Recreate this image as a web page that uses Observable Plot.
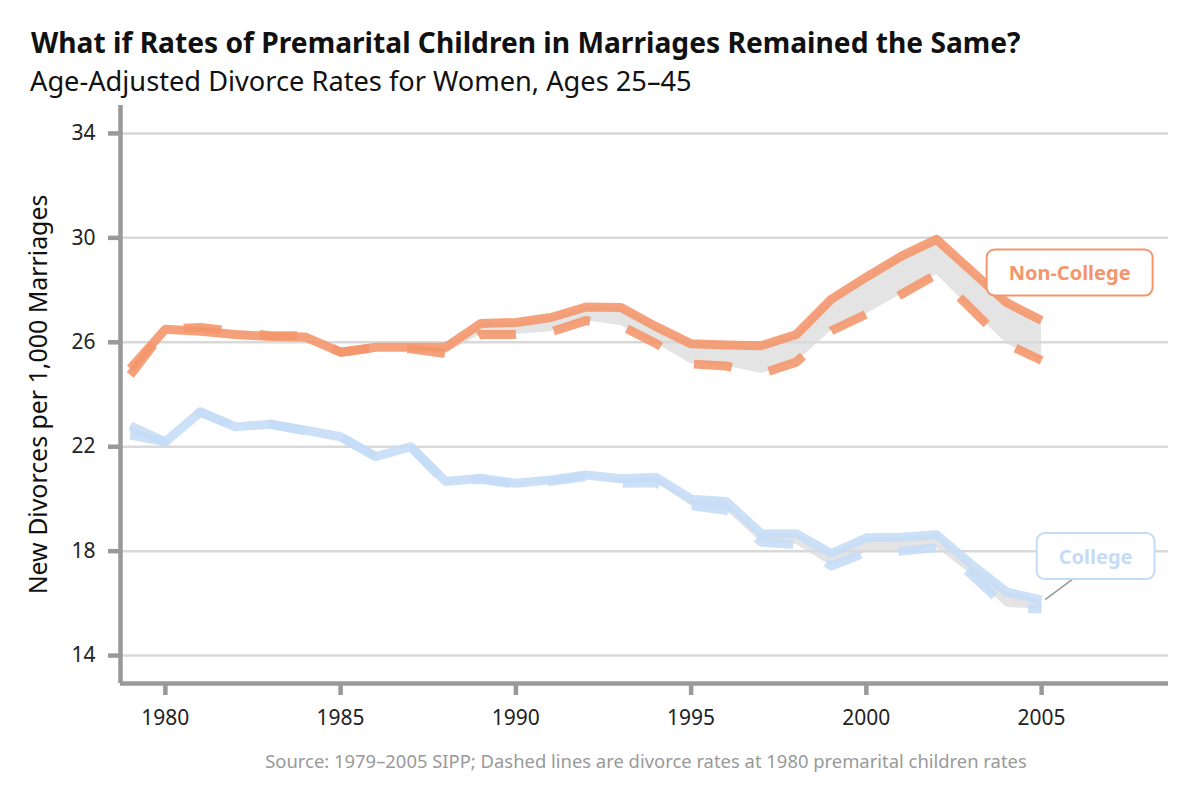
<!DOCTYPE html>
<html>
<head>
<meta charset="utf-8">
<script src="https://cdn.jsdelivr.net/npm/d3@7"></script>
<script src="https://cdn.jsdelivr.net/npm/@observablehq/plot@0.6"></script>
<style>
  html, body { margin: 0; padding: 0; background: #fff; }
  body { width: 1200px; height: 800px; position: relative; overflow: hidden; font-family: "Noto Sans", sans-serif; }
  .hdr { position: absolute; line-height: 1; white-space: nowrap; }
  #title { left: 31px; font-weight: 700; color: #111; }
  #subtitle { left: 30px; font-weight: 400; color: #111; }
  #chart { position: absolute; left: 0; top: 100px; }
  #caption { color: #999; }
</style>
</head>
<body>
<div id="title" class="hdr">What if Rates of Premarital Children in Marriages Remained the Same?</div>
<div id="subtitle" class="hdr">Age-Adjusted Divorce Rates for Women, Ages 25–45</div>
<div id="chart"></div>
<div id="caption" class="hdr">Source: 1979–2005 SIPP; Dashed lines are divorce rates at 1980 premarital children rates</div>
<script>
const years = [1979,1980,1981,1982,1983,1984,1985,1986,1987,1988,1989,1990,1991,1992,1993,1994,1995,1996,1997,1998,1999,2000,2001,2002,2003,2004,2005];

const nonCollegeActual = [25.0,26.5,26.42,26.3,26.22,26.2,25.62,25.81,25.81,25.81,26.72,26.76,26.95,27.35,27.33,26.6,25.94,25.9,25.87,26.3,27.65,28.5,29.3,29.94,28.73,27.52,26.83];
const nonCollegeAt1980 = [24.75,26.5,26.57,26.4,26.25,26.25,25.62,25.8,25.75,25.56,26.3,26.3,26.4,26.83,26.63,25.95,25.17,25.09,24.8,25.24,26.44,27.08,27.84,28.6,27.27,25.94,25.3];

const collegeActual = [22.8,22.19,23.33,22.76,22.86,22.63,22.38,21.62,22.0,20.67,20.79,20.6,20.73,20.92,20.77,20.83,19.99,19.9,18.67,18.67,17.91,18.51,18.53,18.63,17.49,16.44,16.12];
const collegeAt1980 = [22.45,22.19,23.33,22.76,22.86,22.6,22.38,21.62,22.0,20.6,20.75,20.55,20.68,20.85,20.6,20.62,19.74,19.56,18.34,18.25,17.43,17.96,18.0,18.13,17.1,15.84,15.78];

const seriesNames = ["Non-College", "College"];
const seriesColors = ["#f4956a", "#c5dcf7"];
const yTicks = [14, 18, 22, 26, 30, 34];
const xTicks = [1980, 1985, 1990, 1995, 2000, 2005];
const yLabel = "New Divorces per 1,000 Marriages";

const xDomain = [1978.72, 2008.62];
const yDomain = [12.93, 35.07];

// fit header/caption text to the reference widths, keeping baselines
function fit(id, size, targetWidth, baseline, centerX) {
  const el = document.getElementById(id);
  el.style.fontSize = size + "px";
  const w = el.getBoundingClientRect().width;
  const s = size * targetWidth / w;
  el.style.fontSize = s + "px";
  el.style.top = (baseline - 0.888 * s) + "px";
  if (centerX != null) el.style.left = (centerX - el.getBoundingClientRect().width / 2) + "px";
}
fit("title", 26, 990, 53, null);
fit("subtitle", 25, 662, 91, null);
fit("caption", 16, 762, 768, 646);

const actualBySeries = {"Non-College": nonCollegeActual, "College": collegeActual};
const at1980BySeries = {"Non-College": nonCollegeAt1980, "College": collegeAt1980};

const rows = [];
for (const g of seriesNames) {
  years.forEach((yr, i) => rows.push({year: yr, group: g, actual: actualBySeries[g][i], counter: at1980BySeries[g][i]}));
}
const endRows = seriesNames.map(g => rows.filter(r => r.group === g).slice(-1)[0]);

const chart = Plot.plot({
  width: 1200,
  height: 650,
  marginLeft: 120,
  marginRight: 32,
  marginTop: 5,
  marginBottom: 67,
  style: {fontFamily: "'Noto Sans', sans-serif", background: "white", overflow: "visible"},
  x: {domain: xDomain},
  y: {domain: yDomain},
  color: {domain: seriesNames, range: seriesColors},
  marks: [
    Plot.ruleY(yTicks, {stroke: "#d9d9d9", strokeWidth: 2.5}),
    Plot.areaY(rows, {x: "year", y1: "actual", y2: "counter", z: "group", fill: "#d9d9d9", fillOpacity: 0.7}),
    Plot.line(rows, {x: "year", y: "actual", z: "group", stroke: "group", strokeWidth: 9, strokeOpacity: 0.88, strokeLinecap: "butt"}),
    Plot.line(rows, {x: "year", y: "counter", z: "group", stroke: "group", strokeWidth: 9, strokeOpacity: 0.88, strokeLinecap: "butt", strokeDasharray: "38,38"}),
    Plot.ruleX([xDomain[0]], {stroke: "#999", strokeWidth: 4.5}),
    Plot.ruleY([yDomain[0]], {stroke: "#999", strokeWidth: 4.5}),
    Plot.axisY({ticks: yTicks, tickSize: 12, tickPadding: 13, fontSize: 21, stroke: "#999", strokeWidth: 4.5, fill: "#222", label: null}),
    Plot.axisX({ticks: xTicks, tickSize: 12, tickPadding: 15, fontSize: 21, stroke: "#999", strokeWidth: 4.5, fill: "#222", tickFormat: d => String(d), label: null}),
    Plot.text([yLabel], {frameAnchor: "left", rotate: -90, dx: -81, fontSize: 22, fill: "#111", textAnchor: "middle", lineAnchor: "middle"}),
    Plot.text(endRows.filter(d => d.group === "Non-College"), {
      x: "year", y: "actual", text: "group", fill: "group",
      dx: 28, dy: -47, fontSize: 20, fontWeight: 700, textAnchor: "middle", lineAnchor: "middle"
    }),
    Plot.text(endRows.filter(d => d.group === "College"), {
      x: "year", y: "actual", text: "group", fill: "group",
      dx: 54, dy: -43, fontSize: 20, fontWeight: 700, textAnchor: "middle", lineAnchor: "middle"
    })
  ]
});

document.getElementById("chart").appendChild(chart);

const svgEl = chart.tagName.toLowerCase() === "svg" ? chart : chart.querySelector("svg");

// fit the y-axis title to the reference length
d3.select(svgEl).selectAll("text").filter(function() { return this.textContent === yLabel; }).each(function() {
  const h = this.getBoundingClientRect().height;
  if (h > 0) this.setAttribute("font-size", 22 * 400 / h);
});

// rounded boxes behind the series labels, plus the College connector
const svgBox = svgEl.getBoundingClientRect();
const xs = chart.scale("x"), ys = chart.scale("y");
const NS = "http://www.w3.org/2000/svg";
d3.select(svgEl).selectAll("text").filter(function() { return seriesNames.includes(this.textContent); }).each(function() {
  const name = this.textContent;
  const row = endRows.find(r => r.group === name);
  const color = seriesColors[seriesNames.indexOf(name)];
  const r = this.getBoundingClientRect();
  const cx = (r.left + r.right) / 2 - svgBox.left;
  const cy = (r.top + r.bottom) / 2 - svgBox.top;
  const padX = 22;
  const w = r.width + 2 * padX, h = 46;
  const labelGroup = this.parentNode;
  const bg = document.createElementNS(NS, "g");
  labelGroup.parentNode.insertBefore(bg, labelGroup);
  if (name === "College") {
    const line = document.createElementNS(NS, "line");
    line.setAttribute("x1", xs.apply(row.year) + 4);
    line.setAttribute("y1", ys.apply(row.actual));
    line.setAttribute("x2", cx - w / 2 + 36);
    line.setAttribute("y2", cy + h / 2);
    line.setAttribute("stroke", "#999");
    line.setAttribute("stroke-width", 1.5);
    bg.appendChild(line);
  }
  const rect = document.createElementNS(NS, "rect");
  rect.setAttribute("x", cx - w / 2);
  rect.setAttribute("y", cy - h / 2);
  rect.setAttribute("width", w);
  rect.setAttribute("height", h);
  rect.setAttribute("rx", 8);
  rect.setAttribute("fill", "white");
  rect.setAttribute("stroke", color);
  rect.setAttribute("stroke-width", 2);
  bg.appendChild(rect);
});
</script>
</body>
</html>
